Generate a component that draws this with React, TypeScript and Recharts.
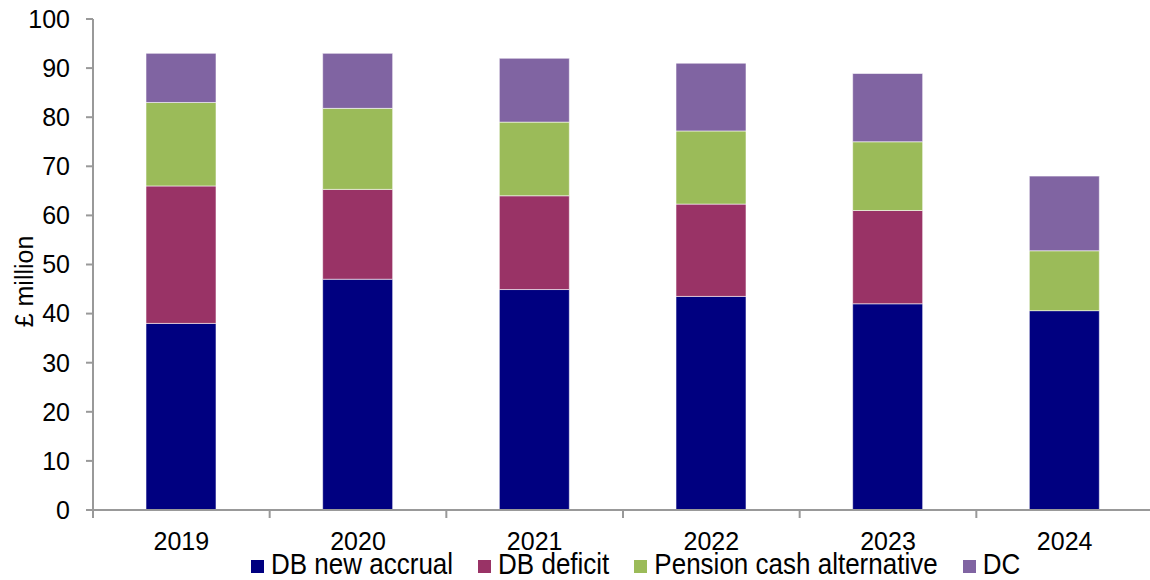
import React from "react";
import {
  BarChart,
  Bar,
  XAxis,
  YAxis,
  Legend,
} from "recharts";

// pension costs by year, £ million
const years = ["2019", "2020", "2021", "2022", "2023", "2024"];
const dbNewAccrual = [38, 47, 44.9, 43.5, 42, 40.6];
const dbDeficit = [28, 18.3, 19.1, 18.8, 19, 0];
const pensionCashAlt = [17, 16.5, 15, 14.9, 14, 12.2];
const dcCosts = [10, 11.2, 13, 13.8, 13.9, 15.2];
const yTicks = [0, 10, 20, 30, 40, 50, 60, 70, 80, 90, 100];

const SERIES = [
  { key: "accrual", name: "DB new accrual", color: "#000080" },
  { key: "deficit", name: "DB deficit", color: "#993366" },
  { key: "pension", name: "Pension cash alternative", color: "#9BBB59" },
  { key: "dc", name: "DC", color: "#8064A2" },
];

const FONT = "'Liberation Sans', Arial, sans-serif";
const AXIS_GREY = "#999999";

const data = years.map((year, i) => ({
  year,
  accrual: dbNewAccrual[i],
  deficit: dbDeficit[i],
  pension: pensionCashAlt[i],
  dc: dcCosts[i],
}));

// year label plus the small tick marks sitting between categories
const YearTick = (props: any) => {
  const { x, y, payload, index } = props;
  const half = payload.offset || 0;
  const axisY = y - 14;
  const isLast = index === years.length - 1;
  return (
    <g>
      <line x1={x - half} x2={x - half} y1={axisY - 8} y2={axisY} stroke={AXIS_GREY} strokeWidth={2} />
      {isLast && (
        <line x1={x + half} x2={x + half} y1={axisY - 8} y2={axisY} stroke={AXIS_GREY} strokeWidth={2} />
      )}
      <text x={x} y={y} dy="0.71em" textAnchor="middle" fontFamily={FONT} fontSize={25} fill="#000">
        {payload.value}
      </text>
    </g>
  );
};

const LegendRow = () => (
  <div style={{ display: "flex", alignItems: "center", fontFamily: FONT, fontSize: 26, color: "#000", lineHeight: "22px" }}>
    {SERIES.map((s) => (
      <div key={s.key} style={{ display: "flex", alignItems: "center", marginRight: 25 }}>
        <span style={{ width: 13, height: 13, background: s.color, marginRight: 7, marginTop: 4 }} />
        <span style={{ display: "inline-block", transform: "scaleY(1.12)" }}>{s.name}</span>
      </div>
    ))}
  </div>
);

const YLabel = (props: any) => {
  const vb = props.viewBox || { x: 0, y: 0, width: 0, height: 0 };
  const x = vb.x + 20;
  const y = vb.y + vb.height / 2 + 17;
  return (
    <text
      x={x}
      y={y}
      transform={`rotate(-90 ${x} ${y})`}
      textAnchor="middle"
      fontFamily={FONT}
      fontSize={25}
      fill="#000"
    >
      £ million
    </text>
  );
};

export default function App() {
  return (
    <div style={{ position: "absolute", left: 0, top: 0, width: 1150, height: 580, overflow: "hidden", background: "#fff" }}>
      <BarChart
        width={1160}
        height={580}
        data={data}
        margin={{ top: 19, right: 7, left: 13, bottom: 0 }}
      >
        <XAxis
          dataKey="year"
          height={70}
          interval={0}
          axisLine={{ stroke: AXIS_GREY, strokeWidth: 2 }}
          tickLine={false}
          tickSize={0}
          tickMargin={22}
          tick={<YearTick />}
        />
        <YAxis
          width={80}
          domain={[0, 100]}
          ticks={yTicks}
          interval={0}
          tickSize={7}
          tickMargin={16}
          axisLine={{ stroke: AXIS_GREY, strokeWidth: 2 }}
          tickLine={{ stroke: AXIS_GREY, strokeWidth: 2 }}
          tick={{ fill: "#000", fontSize: 25, fontFamily: FONT }}
          label={{ content: YLabel }}
        />
        <Legend
          layout="horizontal"
          verticalAlign="middle"
          align="center"
          wrapperStyle={{ top: 553, left: 251, width: "auto" }}
          content={LegendRow}
        />
        {SERIES.map((s) => (
          <Bar
            key={s.key}
            dataKey={s.key}
            name={s.name}
            stackId="total"
            fill={s.color}
            stroke="rgba(255,255,255,0.55)"
            strokeWidth={1}
            barSize={70}
            isAnimationActive={false}
          />
        ))}
      </BarChart>
    </div>
  );
}
